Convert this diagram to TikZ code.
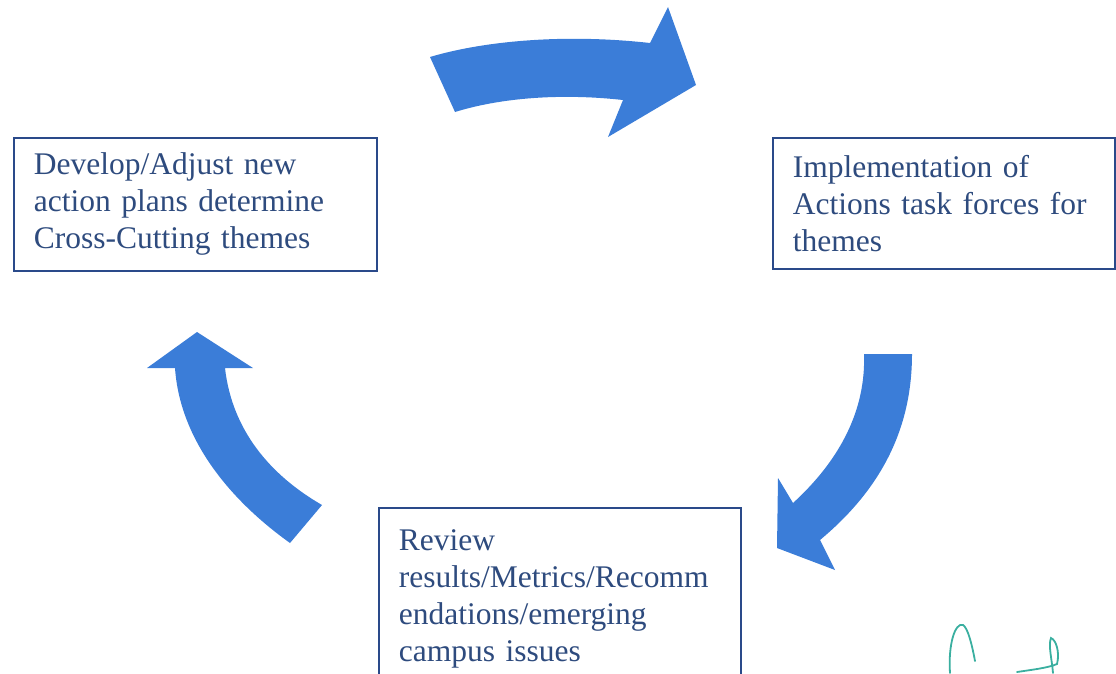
\documentclass[tikz,border=0pt]{standalone}
\usepackage{fontspec}
\setmainfont{Liberation Serif}
\usepackage{tikz}
\usetikzlibrary{positioning}
\usepackage{xcolor}
\definecolor{boxline}{HTML}{2A4A8A}
\definecolor{boxtext}{HTML}{2E4B7E}
\definecolor{arrowblue}{HTML}{3B7DD8}
\definecolor{inkgreen}{HTML}{3AAFA0}

\tikzset{
  stagebox/.style={rectangle, draw=boxline, line width=1.6pt, fill=white,
    text=boxtext, align=left, inner xsep=20pt, inner ysep=0pt,
    font=\fontsize{31.5}{37}\selectfont, anchor=north west},
  cyclearrow/.style={fill=arrowblue, draw=none}
}

\begin{document}
\begin{tikzpicture}[x=1pt, y=-1pt]
\useasboundingbox (0,0) rectangle (1116,673);
\clip (0,0) rectangle (1116,673);

% stages of the cycle
\node[stagebox, text width=323pt, minimum height=133pt] (develop) at (13,137)
  {Develop/Adjust new\\action plans determine\\Cross-Cutting themes};
\node[stagebox, text width=302pt, minimum height=131pt] (implement) at (772,137)
  {Implementation of\\Actions task forces for\\themes};
\node[stagebox, text width=322pt, inner ysep=22pt] (review) at (378,507)
  {Review\\results/Metrics/Recomm\\endations/emerging\\campus issues};

% curved block arrows
\fill[cyclearrow] (430,57) .. controls (480,42) and (560,33) .. (650,43)
  -- (668,7) -- (696,85) -- (608,137) -- (623,100)
  .. controls (560,93) and (500,98) .. (455,112) -- cycle;
\fill[cyclearrow] (864,354) -- (912,354)
  .. controls (912,430) and (880,490) .. (820,540)
  -- (835,570) -- (777,548) -- (778,478) -- (793,503)
  .. controls (840,460) and (866,410) .. (864,354) -- cycle;
\fill[cyclearrow] (197,332) -- (253,368) -- (225,368)
  .. controls (232,430) and (270,475) .. (322,505)
  -- (290,543) .. controls (230,500) and (180,440) .. (175,368)
  -- (147,368) -- cycle;

% initials
\draw[inkgreen, line width=1.8pt, line cap=round]
  (950,673) .. controls (948,645) and (955,622) .. (963,625)
  .. controls (968,628) and (972,645) .. (975,661);
\draw[inkgreen, line width=1.8pt, line cap=round]
  (1017,672) .. controls (1030,670) and (1048,668) .. (1057,664)
  .. controls (1060,652) and (1056,640) .. (1051,638)
  .. controls (1048,645) and (1052,660) .. (1053,673);
\end{tikzpicture}
\end{document}
